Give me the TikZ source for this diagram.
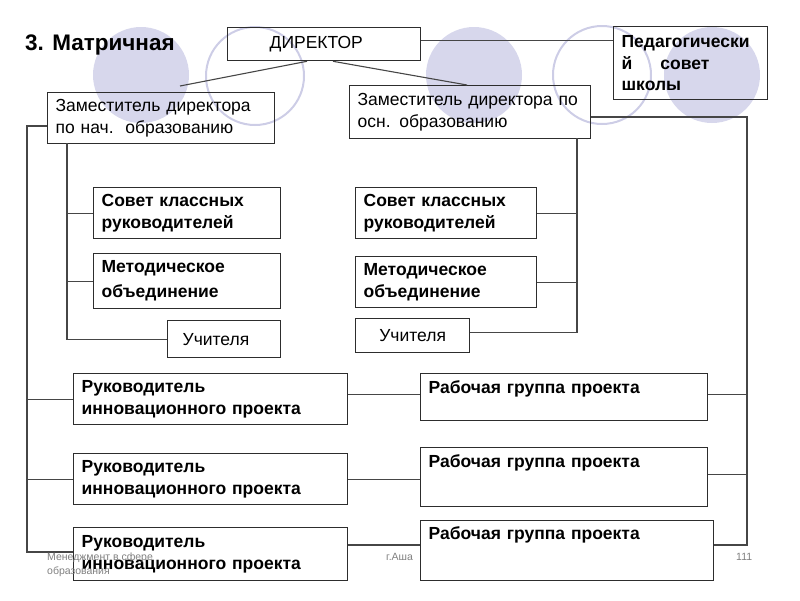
\documentclass[tikz,border=0pt]{standalone}
\usepackage{fontspec}
\setmainfont{Liberation Sans}
\usetikzlibrary{calc}
\definecolor{lavfill}{RGB}{215,215,236}
\definecolor{lavline}{RGB}{205,205,230}
\definecolor{boxline}{RGB}{45,45,45}
\definecolor{conline}{RGB}{70,70,70}
\newcommand\bodyfs{\fontsize{17.5}{21.5}\selectfont}
\newcommand\footfs{\fontsize{10.5}{14}\selectfont}
\tikzset{
  box/.style={draw=boxline, line width=1.3pt, anchor=north west, inner xsep=8pt, inner ysep=0pt, align=left, font=\bodyfs},
  bbox/.style={box, font=\bodyfs\bfseries},
  con/.style={draw=conline, line width=1.1pt},
  foot/.style={text=black!50, font=\footfs, anchor=north west, inner sep=0pt, align=left},
  dotf/.style={fill=lavfill, draw=none},
  doto/.style={draw=lavline, line width=2pt, fill=none}
}
\begin{document}
\begin{tikzpicture}[x=1pt,y=-1pt]
\useasboundingbox (0,0) rectangle (800,600);
% decorative circles
\fill[dotf] (141,75) circle (48);
\draw[doto] (255,76) circle (49);
\fill[dotf] (474,75) circle (48);
\draw[doto] (602,75) circle (49);
\fill[dotf] (712,75) circle (48);
% title
\node[anchor=west, inner sep=0pt, font=\fontsize{22.5}{26}\selectfont\bfseries] (title) at (25,45) {3. Матричная};
% boxes
\node[box, minimum width=193pt, minimum height=33pt, text width=177pt] (dir) at (227,27) {\hspace*{34pt}ДИРЕКТОР};
\node[bbox, minimum width=154pt, minimum height=73pt, text width=138pt] (ped) at (613,26) {Педагогически\\й\hspace{28pt}совет\\школы};
\node[box, minimum width=227pt, minimum height=51pt, text width=211pt] (zam1) at (47,92) {Заместитель директора\\по нач.\ \ образованию};
\node[box, minimum width=241pt, minimum height=53pt, text width=225pt] (zam2) at (349,85) {Заместитель директора по\\осн. образованию};
\node[bbox, minimum width=187pt, minimum height=51pt, text width=171pt] (sov1) at (93,187) {Совет классных\\руководителей};
\node[bbox, minimum width=187pt, minimum height=55pt, text width=171pt, font=\fontsize{17.5}{25}\selectfont\bfseries] (met1) at (93,253) {Методическое\\объединение};
\node[box, minimum width=113pt, minimum height=37pt, text width=97pt] (uch1) at (167,320) {\hspace*{7pt}Учителя};
\node[bbox, minimum width=181pt, minimum height=51pt, text width=165pt] (sov2) at (355,187) {Совет классных\\руководителей};
\node[bbox, minimum width=181pt, minimum height=51pt, text width=165pt] (met2) at (355,256) {Методическое\\объединение};
\node[box, minimum width=114pt, minimum height=34pt, text width=98pt, align=center] (uch2) at (355,318) {Учителя};
\node[bbox, minimum width=274pt, minimum height=51pt, text width=258pt] (r1) at (73,373) {Руководитель\\инновационного проекта};
\node[bbox, minimum width=274pt, minimum height=51pt, text width=258pt] (r2) at (73,453) {Руководитель\\инновационного проекта};
\node[bbox, minimum width=274pt, minimum height=53pt, text width=258pt] (r3) at (73,527) {Руководитель\\инновационного проекта};
\node[bbox, minimum width=287pt, minimum height=47pt, text width=271pt] (g1) at (420,373) {Рабочая группа проекта\\[-8.5pt]\strut};
\node[bbox, minimum width=287pt, minimum height=59pt, text width=271pt] (g2) at (420,447) {Рабочая группа проекта\\[3.5pt]\strut};
\node[bbox, minimum width=293pt, minimum height=60pt, text width=277pt] (g3) at (420,520) {Рабочая группа проекта\\[6.5pt]\strut};
% coordinates for trunks
\coordinate (tl) at (27,126);
\coordinate (bl) at (27,552);
\coordinate (t1) at (67,143);
\coordinate (t2) at (577,138);
\coordinate (tr) at (747,117);
\coordinate (br) at (747,545);
% connectors
\draw[con] ([yshift=3.5pt]dir.east) -- ([yshift=3.5pt]dir.east -| ped.west);
\draw[con] ($(dir.south west)+(80,0)$) -- ($(zam1.north west)+(133,-6)$);
\draw[con] ($(dir.south west)+(106,0)$) -- ($(zam2.north west)+(118,0)$);
% left trunk
\draw[con] (zam1.west |- tl) -- (tl) -- (bl) -- (bl -| r3.west);
\draw[con] (r1.west) -- (r1.west -| tl);
\draw[con] (r2.west) -- (r2.west -| tl);
% zam1 trunk
\draw[con] (t1) -- (t1 |- uch1.west) -- (uch1.west);
\draw[con] (sov1.west) -- (sov1.west -| t1);
\draw[con] (met1.west) -- (met1.west -| t1);
% zam2 trunk
\draw[con] (t2) -- ([yshift=3pt]t2 |- uch2.east) -- ([yshift=3pt]uch2.east);
\draw[con] (sov2.east) -- (sov2.east -| t2);
\draw[con] (met2.east) -- (met2.east -| t2);
% right trunk
\draw[con] (zam2.east |- tr) -- (tr) -- (br) -- (br -| g3.east);
\draw[con] ([yshift=3pt]g1.east) -- ([yshift=3pt]g1.east -| tr);
\draw[con] ([yshift=3pt]g2.east) -- ([yshift=3pt]g2.east -| tr);
% project rows
\draw[con] ([yshift=3pt]r1.east |- g1.west) -- ([yshift=3pt]g1.west);
\draw[con] (r2.east) -- (r2.east -| g2.west);
\draw[con] (r3.east |- br) -- (g3.west |- br);
% footer
\node[foot] (f1) at (47,553) {Менеджмент в сфере\\образования};
\node[foot] (f2) at (386,553) {г.Аша};
\node[foot] (f3) at (736,553) {111};
\end{tikzpicture}
\end{document}
